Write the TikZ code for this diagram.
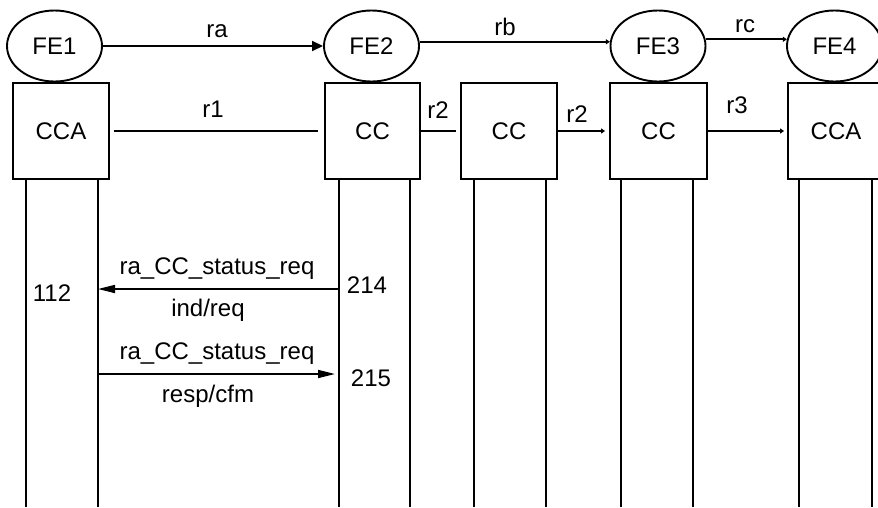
\documentclass[tikz,border=0pt]{standalone}
\usepackage{fontspec}
\setmainfont{Liberation Sans}
\usetikzlibrary{arrows.meta,shapes.geometric}
\begin{document}
\begin{tikzpicture}[x=1pt,y=-1pt,
  fe/.style={draw,ellipse,line width=1.9pt,minimum width=95pt,minimum height=71pt,inner sep=0pt},
  box/.style={draw,rectangle,line width=1.9pt,minimum width=96pt,minimum height=96pt,inner sep=0pt},
  life/.style={line width=1.9pt},
  conn/.style={line width=1.7pt},
  lbl/.style={anchor=base,inner sep=0pt},
  tinyarrow/.style={-{Triangle[length=4pt,width=5pt]}},
  bigarrow/.style={-{Triangle[length=11pt,width=10pt]}},
  msgarrow/.style={-{Triangle[length=17pt,width=8pt]}},
  font=\fontsize{24}{28}\selectfont]
\useasboundingbox (0,0) rectangle (878,507);

% functional entities
\node[fe] (fe1) at (54.5,46) {FE1};
\node[fe] (fe2) at (371.5,46) {FE2};
\node[fe] (fe3) at (658,46) {FE3};
\node[fe] (fe4) at (834.5,46) {FE4};

% boxes
\node[box] (b1) at (61,131) {CCA};
\node[box,minimum width=95pt] (b2) at (372.5,131) {CC};
\node[box] (b3) at (509,131) {CC};
\node[box,minimum width=97pt] (b4) at (658.5,131) {CC};
\node[box] (b5) at (836,131) {CCA};

% lifelines
\foreach \n/\xa/\xb in {b1/26/98, b2/339/410, b3/474/546, b4/621/693, b5/799/872}{
  \coordinate (\n la) at (\xa,507);
  \coordinate (\n lb) at (\xb,507);
  \draw[life] (\n.south -| \n la) -- (\n la);
  \draw[life] (\n.south -| \n lb) -- (\n lb);
}

% top connectors
\draw[conn,bigarrow] (fe1.east) -- (fe2.west);
\node[lbl] (lra) at (217,37) {ra};
\draw[conn,tinyarrow] (fe2.5) -- (fe3.175);
\node[lbl] (lrb) at (505,35) {rb};
\draw[conn,tinyarrow] (fe3.8) -- (fe4.172);
\node[lbl] (lrc) at (745,32) {rc};

\draw[conn,shorten <=4pt,shorten >=6pt] (b1.east) -- (b2.west);
\node[lbl] (lr1) at (213,117) {r1};
\draw[conn,shorten >=4pt] (b2.east) -- (b3.west);
\node[lbl] (lr2a) at (438,118) {r2};
\draw[conn,tinyarrow,shorten >=4pt] (b3.east) -- (b4.west);
\node[lbl] (lr2b) at (577,122) {r2};
\draw[conn,tinyarrow,shorten >=3pt] (b4.east) -- (b5.west);
\node[lbl] (lr3) at (737,113) {r3};

% messages
\coordinate (m1s) at (339,289);
\coordinate (m1e) at (98,289);
\coordinate (m2s) at (98,374);
\coordinate (m2e) at (335,374);
\draw[conn,msgarrow] (m1s) -- (m1e);
\draw[conn,msgarrow] (m2s) -- (m2e);

\node[lbl] (t1) at (217,274) {ra\_CC\_status\_req};
\node[lbl] (t2) at (208,316) {ind/req};
\node[lbl] (t3) at (217,359) {ra\_CC\_status\_req};
\node[lbl] (t4) at (208,402) {resp/cfm};
\node[lbl] (n112) at (52,301) {112};
\node[lbl] (n214) at (367,293) {214};
\node[lbl] (n215) at (371,386) {215};
\end{tikzpicture}
\end{document}
